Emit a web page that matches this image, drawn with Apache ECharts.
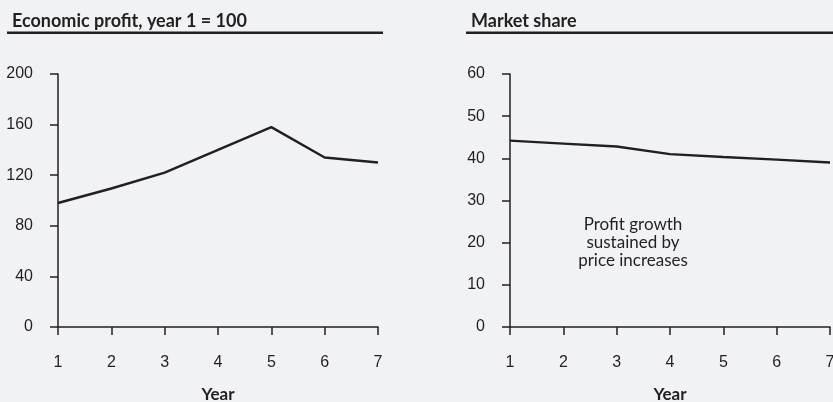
<!DOCTYPE html>
<html>
<head>
<meta charset="utf-8">
<script src="https://cdn.jsdelivr.net/npm/echarts@6/dist/echarts.min.js"></script>
<style>
html,body{margin:0;padding:0;background:#f1f2f4;}
#c{width:833px;height:402px;}
</style>
</head>
<body>
<div id="c"></div>
<script>
var years = [1, 2, 3, 4, 5, 6, 7];
var profitValues = [98, 109.5, 122, 140, 158, 134, 130];
var shareValues = [44.2, 43.5, 42.8, 41, 40.3, 39.7, 39];
var profitTicks = [0, 40, 80, 120, 160, 200];
var shareTicks = [0, 10, 20, 30, 40, 50, 60];
var leftTitle = 'Economic profit, year 1 = 100';
var rightTitle = 'Market share';
var xName = 'Year';
var noteLines = ['Profit growth', 'sustained by', 'price increases'];

var ink = '#231f20';
var tickFont = {color: ink, fontFamily: 'Liberation Sans', fontSize: 16};

function pairs(xs, ys) { return xs.map(function (x, i) { return [x, ys[i]]; }); }

function xAxisCfg(idx) {
  return {
    type: 'value', gridIndex: idx, min: years[0], max: years[years.length - 1], interval: 1,
    splitLine: {show: false},
    axisLine: {show: true, onZero: false, lineStyle: {color: ink, width: 1.5}},
    axisTick: {show: true, length: 8, lineStyle: {color: ink, width: 1.5}},
    axisLabel: Object.assign({margin: 28}, tickFont),
    name: xName, nameLocation: 'middle', nameGap: 59,
    nameTextStyle: {color: ink, fontFamily: 'Lato', fontWeight: 'bold', fontSize: 17}
  };
}
function yAxisCfg(idx, ticks) {
  return {
    type: 'value', gridIndex: idx, min: ticks[0], max: ticks[ticks.length - 1],
    interval: ticks[1] - ticks[0],
    splitLine: {show: false},
    axisLine: {show: true, lineStyle: {color: ink, width: 1.5}},
    axisTick: {show: true, length: 8, lineStyle: {color: ink, width: 1.5}},
    axisLabel: Object.assign({margin: 25}, tickFont)
  };
}

var chart = echarts.init(document.getElementById('c'), null, {renderer: 'canvas'});
chart.setOption({
  backgroundColor: '#f1f2f4',
  animation: false,
  title: [
    {text: leftTitle, left: 7, top: 7, textStyle: {color: ink, fontFamily: 'Lato', fontWeight: 'bold', fontSize: 18}},
    {text: rightTitle, left: 466, top: 7, textStyle: {color: ink, fontFamily: 'Lato', fontWeight: 'bold', fontSize: 18}}
  ],
  grid: [
    {left: 58, right: 455, top: 74, bottom: 75, containLabel: false, outerBoundsMode: 'none'},
    {left: 510, right: 3, top: 74, bottom: 75, containLabel: false, outerBoundsMode: 'none'}
  ],
  xAxis: [xAxisCfg(0), xAxisCfg(1)],
  yAxis: [yAxisCfg(0, profitTicks), yAxisCfg(1, shareTicks)],
  series: [
    {type: 'line', xAxisIndex: 0, yAxisIndex: 0, data: pairs(years, profitValues), symbol: 'none',
     lineStyle: {color: ink, width: 2.4}},
    {type: 'line', xAxisIndex: 1, yAxisIndex: 1, data: pairs(years, shareValues), symbol: 'none',
     lineStyle: {color: ink, width: 2.4}}
  ],
  graphic: [
    {type: 'rect', shape: {x: 7, y: 31.5, width: 376, height: 2.5}, style: {fill: ink}},
    {type: 'rect', shape: {x: 466, y: 31.5, width: 367, height: 2.5}, style: {fill: ink}},
    {type: 'text', x: 633, y: 216, style: {text: noteLines.join('\n'), align: 'center',
      fill: ink, font: '17px Lato', lineHeight: 18}}
  ]
});
</script>
</body>
</html>
